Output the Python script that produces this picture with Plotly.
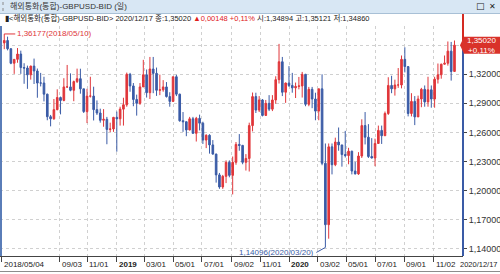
import plotly.graph_objects as go
import pandas as pd

# ---------------- data (weekly OHLC) ----------------
weeks = pd.date_range("2018-05-07", periods=137, freq="W-MON")

opens = [1.3525,1.3550,1.3465,1.3315,1.3355,1.3410,1.3270,1.3265,1.3195,1.3285,1.3235,1.3110,1.3110,1.2995,1.2762,1.2740,1.2835,1.2960,1.2930,1.3070,1.3070,1.3035,1.3125,1.3155,1.3050,1.2815,1.2975,1.2975,1.2835,1.2800,1.2725,1.2735,1.2630,1.2635,1.2755,
         1.2740,1.2840,1.2885,1.3200,1.3080,1.2940,1.2900,1.3070,1.3195,1.3010,1.3255,1.3210,1.3035,1.3040,1.3070,1.2970,1.2920,1.3175,1.2995,1.2720,1.2710,1.2625,1.2740,1.2590,1.2745,1.2695,1.2520,1.2570,1.2470,1.2375,1.2160,1.2035,1.2145,1.2290,1.2155,1.2290,1.2475,1.2465,1.2290,1.2330,1.2670,1.2970,1.2830,1.2935,1.2775,1.2900,1.2840,1.2935,1.3145,1.3330,1.3015,1.3110,
         1.3085,1.3060,1.3075,1.3080,1.3200,1.2890,1.3045,1.2945,1.2820,1.3050,1.2280,1.1645,1.2450,1.2265,1.2500,1.2470,1.2370,1.2360,1.2405,1.2200,1.2170,1.2355,1.2670,1.2550,1.2350,1.2335,1.2485,1.2620,1.2565,1.2795,1.3085,1.3050,1.3090,1.3090,1.3355,1.3280,1.2795,1.2920,1.2760,1.2945,1.3045,1.2915,1.3040,1.2945,1.3150,1.3195,1.3305,1.3315,1.3440,1.3230]
highs = [1.36177,1.3590,1.3470,1.3355,1.3472,1.3445,1.3315,1.3290,1.3290,1.3363,1.3260,1.3215,1.3175,1.3000,1.2780,1.2945,1.3045,1.2970,1.3160,1.3297,1.3210,1.3135,1.3259,1.3258,1.3050,1.3050,1.3175,1.3072,1.2930,1.2845,1.2840,1.2760,1.2700,1.2760,1.2815,
         1.2865,1.2958,1.3218,1.3215,1.3110,1.2990,1.3110,1.3350,1.3250,1.3380,1.3380,1.3270,1.3197,1.3140,1.3120,1.3015,1.3175,1.3195,1.3000,1.2810,1.2710,1.2760,1.2760,1.2760,1.2783,1.2710,1.2580,1.2580,1.2520,1.2380,1.2180,1.2160,1.2310,1.2310,1.2350,1.2500,1.2582,1.2470,1.2375,1.2700,1.3012,1.3010,1.2975,1.2945,1.2935,1.2985,1.2985,1.3180,1.3515,1.3380,1.3115,1.3285,
         1.3215,1.3115,1.3173,1.3225,1.3205,1.3070,1.3070,1.3010,1.3050,1.3200,1.2485,1.2485,1.2485,1.2545,1.2650,1.2470,1.2615,1.2440,1.2410,1.2295,1.2395,1.2735,1.2810,1.2685,1.2540,1.2535,1.2670,1.2670,1.2815,1.3170,1.3185,1.3145,1.3265,1.3395,1.3480,1.3285,1.3005,1.2975,1.2980,1.3060,1.3085,1.3175,1.3085,1.3175,1.3312,1.3310,1.3395,1.3540,1.3535,1.3550]
lows = [1.3460,1.3448,1.3305,1.3205,1.3320,1.3205,1.3102,1.3050,1.3145,1.3100,1.2958,1.3075,1.2920,1.2725,1.2662,1.2730,1.2828,1.2786,1.2921,1.3060,1.3025,1.2922,1.3110,1.3000,1.2800,1.2696,1.2960,1.2723,1.2780,1.2700,1.2658,1.2477,1.2603,1.2605,1.2400,
        1.2670,1.2670,1.2865,1.3020,1.2870,1.2773,1.2885,1.3070,1.2960,1.2945,1.3005,1.2977,1.2985,1.3020,1.2960,1.2865,1.2915,1.2975,1.2710,1.2605,1.2560,1.2620,1.2585,1.2505,1.2620,1.2480,1.2437,1.2380,1.2370,1.2080,1.2016,1.2015,1.2075,1.2135,1.1958,1.2265,1.2410,1.2270,1.2205,1.2195,1.2610,1.2800,1.2810,1.2765,1.2770,1.2820,1.2820,1.2895,1.3105,1.2975,1.2905,1.3070,
        1.3010,1.2955,1.3045,1.2960,1.2870,1.2870,1.2850,1.2725,1.2725,1.2260,1.14096,1.1500,1.2165,1.2250,1.2410,1.2245,1.2340,1.2270,1.2165,1.2165,1.2160,1.2335,1.2475,1.2335,1.2330,1.2250,1.2485,1.2480,1.2565,1.2780,1.3005,1.2980,1.3060,1.3055,1.3220,1.2765,1.2765,1.2675,1.2760,1.2860,1.2865,1.2865,1.2855,1.2855,1.3105,1.3155,1.3300,1.3290,1.3135,1.3230]
closes = [1.3550,1.3465,1.3315,1.3355,1.3410,1.3270,1.3265,1.3195,1.3285,1.3235,1.3110,1.3110,1.2995,1.2762,1.2740,1.2835,1.2960,1.2930,1.3070,1.3070,1.3035,1.3125,1.3155,1.3050,1.2815,1.2975,1.2975,1.2835,1.2800,1.2725,1.2735,1.2630,1.2635,1.2755,1.2740,
          1.2840,1.2885,1.3200,1.3080,1.2940,1.2900,1.3070,1.3195,1.3010,1.3255,1.3210,1.3035,1.3040,1.3070,1.2970,1.2920,1.3175,1.2995,1.2720,1.2710,1.2625,1.2740,1.2590,1.2745,1.2695,1.2520,1.2570,1.2470,1.2375,1.2160,1.2035,1.2145,1.2290,1.2155,1.2290,1.2475,1.2465,1.2290,1.2330,1.2670,1.2970,1.2830,1.2935,1.2775,1.2900,1.2840,1.2935,1.3145,1.3330,1.3015,1.3110,1.3085,
          1.3060,1.3075,1.3080,1.3200,1.2890,1.3045,1.2945,1.2820,1.3050,1.2280,1.1645,1.2450,1.2265,1.2500,1.2470,1.2370,1.2360,1.2405,1.2200,1.2170,1.2355,1.2670,1.2550,1.2350,1.2335,1.2485,1.2620,1.2565,1.2795,1.3085,1.3050,1.3090,1.3090,1.3355,1.3280,1.2795,1.2920,1.2760,1.2945,1.3045,1.2915,1.3040,1.2945,1.3150,1.3195,1.3305,1.3315,1.3440,1.3230,1.3502]

tick_dates = ["2018-05-04","2018-09-03","2018-11-01","2019-01-02","2019-03-01","2019-05-01","2019-07-01",
              "2019-09-02","2019-11-01","2020-01-02","2020-03-02","2020-05-01","2020-07-01","2020-09-01","2020-11-02"]
tick_labels = ["2018/05/04","09/03","11/01","2019","03/01","05/01","07/01",
               "09/02","11/01","2020","03/02","05/01","07/01","09/01","11/02"]
last_date_label = "2020/12/17"

y_ticks = [1.14, 1.17, 1.20, 1.23, 1.26, 1.29, 1.32, 1.35]
y_tick_text = ["1,14000","1,17000","1,20000","1,23000","1,26000","1,29000","1,32000",""]

title_text = "해외통화(통합)-GBPUSD-BID (일)"
info_black1 = "▮&lt;해외통화(통합)-GBPUSD-BID&gt; 2020/12/17 종:1,35020 "
info_red = "▲0,00148 +0,11%"
info_black2 = " 시:1,34894 고:1,35121 저:1,34860"
max_label = "1,36177(2018/05/10)"
min_label = "1,14096(2020/03/20)"
last_price_label = "1,35020"
last_change_label = "+0,11%"

# ---------------- styling / layout helpers ----------------
UP = "#e0363a"
DOWN = "#3a5ba6"
L, W, T, H = 0, 463, 26, 230
FIGW, FIGH = 500, 274
YMIN, YMAX = 1.1321, 1.3700

def px(xp):
    return (xp - L) / W

def py(yp):
    return (T + H - yp) / H

def yfrac(v):
    return (v - YMIN) / (YMAX - YMIN)

xs = weeks + pd.Timedelta(days=2)

fig = go.Figure()
fig.add_trace(go.Candlestick(
    x=xs, open=opens, high=highs, low=lows, close=closes,
    increasing=dict(line=dict(color=UP, width=1), fillcolor=UP),
    decreasing=dict(line=dict(color=DOWN, width=1), fillcolor=DOWN),
    whiskerwidth=0, hoverinfo="skip", showlegend=False,
))

font_main = "Liberation Sans, Noto Sans CJK KR, sans-serif"

fig.update_layout(
    width=FIGW, height=FIGH,
    margin=dict(l=L, r=FIGW - L - W, t=T, b=FIGH - T - H),
    paper_bgcolor="white", plot_bgcolor="white",
    showlegend=False,
    font=dict(family=font_main, size=9, color="#333333"),
    xaxis=dict(
        type="date", range=["2018-04-30", "2021-01-03"],
        rangeslider=dict(visible=False),
        tickvals=tick_dates, showticklabels=False,
        ticks="outside", ticklen=5, tickcolor="#444444", tickwidth=1,
        showgrid=True, gridcolor="#d0d0d0", griddash="dot", gridwidth=1,
        showline=True, linecolor="#444444", linewidth=1,
        zeroline=False, fixedrange=True,
    ),
    yaxis=dict(
        side="right", range=[YMIN, YMAX],
        tickvals=y_ticks, ticktext=y_tick_text,
        ticks="outside", ticklen=3, tickcolor="#444444",
        tickfont=dict(size=9, color="#333333", family=font_main),
        showgrid=True, gridcolor="#d0d0d0", griddash="dot", gridwidth=1,
        showline=False, zeroline=False, fixedrange=True,
    ),
)

shapes = []
# title bar
shapes.append(dict(type="rect", xref="paper", yref="paper", x0=px(0), x1=px(FIGW), y0=py(13), y1=py(0),
                   fillcolor="#d8e7f4", line=dict(width=0), layer="below"))
shapes.append(dict(type="line", xref="paper", yref="paper", x0=px(0), x1=px(FIGW), y0=py(13.5), y1=py(13.5),
                   line=dict(color="#a8c0d6", width=1)))
# grip dots in the title bar
shapes.append(dict(type="line", xref="paper", yref="paper", x0=px(3), x1=px(3), y0=py(11), y1=py(2),
                   line=dict(color="#8a8a8a", width=1, dash="dot")))
# left border
shapes.append(dict(type="line", xref="paper", yref="paper", x0=px(1), x1=px(1), y0=0, y1=py(26),
                   line=dict(color="#5a7db8", width=2)))
# right axis line: red above last price, blue below
pf = yfrac(closes[-1])
shapes.append(dict(type="line", xref="paper", yref="paper", x0=px(463), x1=px(463), y0=pf, y1=py(14),
                   line=dict(color="#d42a22", width=2)))
shapes.append(dict(type="line", xref="paper", yref="paper", x0=px(463), x1=px(463), y0=0, y1=pf,
                   line=dict(color="#3a5ba6", width=2)))
# bottom border of label row
shapes.append(dict(type="line", xref="paper", yref="paper", x0=px(0), x1=px(FIGW), y0=py(271.5), y1=py(271.5),
                   line=dict(color="#8c8c8c", width=1)))
# price box
shapes.append(dict(type="rect", xref="paper", yref="paper", x0=px(464), x1=px(FIGW), y0=pf - 8.5 / H, y1=pf + 8.5 / H,
                   fillcolor="#d9322a", line=dict(width=0)))
shapes.append(dict(type="path", xref="paper", yref="paper",
                   path=f"M {px(464)} {pf + 8.5 / H} L {px(460)} {pf} L {px(464)} {pf - 8.5 / H} Z",
                   fillcolor="#d9322a", line=dict(width=0)))
fig.update_layout(shapes=shapes)

ann = []
ann.append(dict(xref="paper", yref="paper", x=px(8), y=py(6.5), text=title_text, showarrow=False,
                xanchor="left", yanchor="middle", font=dict(size=8, color="#333333")))
ann.append(dict(xref="paper", yref="paper", x=px(480), y=py(6.5), text="□", showarrow=False,
                xanchor="center", yanchor="middle", font=dict(size=9, color="#222222", family="DejaVu Sans")))
ann.append(dict(xref="paper", yref="paper", x=px(493), y=py(6.5), text="✕", showarrow=False,
                xanchor="center", yanchor="middle", font=dict(size=8, color="#222222", family="DejaVu Sans")))
ann.append(dict(xref="paper", yref="paper", x=px(3), y=py(18), showarrow=False,
                text=info_black1 + f"<span style='color:#e0201b'>{info_red}</span>" + info_black2,
                xanchor="left", yanchor="middle", font=dict(size=7.5, color="#222222")))
# x labels
for d, lab in zip(tick_dates, tick_labels):
    bold = lab in ("2019", "2020")
    ann.append(dict(xref="x", yref="paper", x=d, y=py(264.5), text=f"<b>{lab}</b>" if bold else lab,
                    showarrow=False, xanchor="left", yanchor="middle", xshift=0,
                    font=dict(size=8, color="#222222")))
ann.append(dict(xref="paper", yref="paper", x=px(499.5), y=py(264.5), text=last_date_label, showarrow=False,
                xanchor="right", yanchor="middle", font=dict(size=7.5, color="#222222")))
# price box text
ann.append(dict(xref="paper", yref="paper", x=px(482), y=pf, text=f"{last_price_label}<br>{last_change_label}",
                showarrow=False, xanchor="center", yanchor="middle",
                font=dict(size=8, color="white")))
# max / min annotations
imax = highs.index(max(highs))
imin = lows.index(min(lows))
ann.append(dict(x=xs[imax], y=highs[imax], text=max_label, showarrow=True, arrowhead=0, arrowwidth=1,
                arrowcolor=UP, ax=11, ay=0, xanchor="left", yanchor="middle",
                font=dict(size=8, color=UP)))
ann.append(dict(x=xs[imin], y=lows[imin], text=min_label, showarrow=True, arrowhead=0, arrowwidth=1,
                arrowcolor=DOWN, ax=-9, ay=5, xanchor="right", yanchor="middle",
                font=dict(size=8, color=DOWN)))
fig.update_layout(annotations=ann)

fig.write_html("out.html")
